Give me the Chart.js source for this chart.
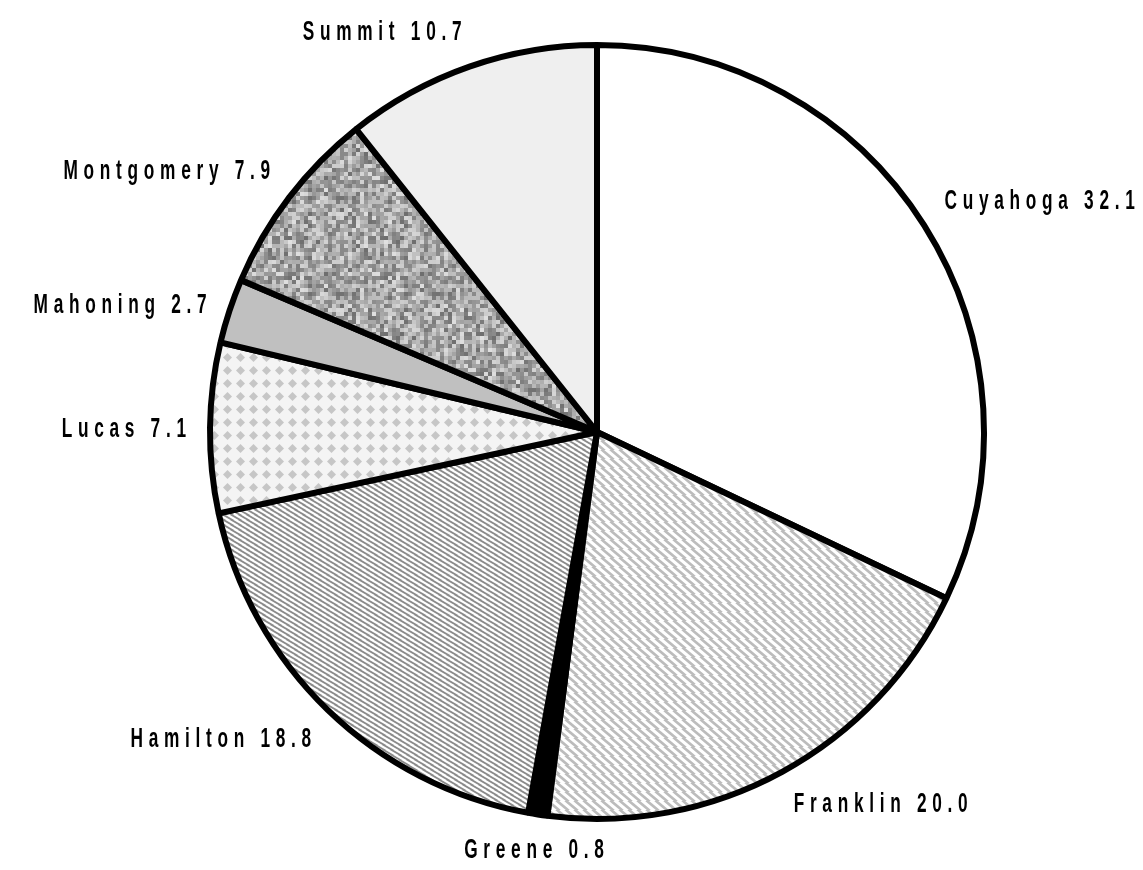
<!DOCTYPE html>
<html>
<head>
<meta charset="utf-8">
<script src="https://cdn.jsdelivr.net/npm/chart.js@4.4.0/dist/chart.umd.min.js"></script>
<style>
  html, body { margin: 0; padding: 0; background: #fff; }
  #wrap { width: 1143px; height: 870px; }
</style>
</head>
<body>
<div id="wrap"><canvas id="pieChart" width="1143" height="870"></canvas></div>
<script>
// 数据
var counties = ['Cuyahoga', 'Franklin', 'Greene', 'Hamilton', 'Lucas', 'Mahoning', 'Montgomery', 'Summit'];
var shares = [32.1, 20.0, 0.8, 18.8, 7.1, 2.7, 7.9, 10.7];

// 图案填充
function makeTile(w, h, draw) {
    var c = document.createElement('canvas');
    c.width = w; c.height = h;
    var g = c.getContext('2d');
    g.fillStyle = '#fff';
    g.fillRect(0, 0, w, h);
    draw(g, w, h);
    return c;
}

function stripeTile(w, h, color, lw) {
    return makeTile(w, h, function(g) {
        g.strokeStyle = color;
        g.lineWidth = lw;
        for (var k = -1; k <= 1; k++) {
            g.beginPath();
            g.moveTo(k * w - 2, -1);
            g.lineTo(k * w + w + 2, h + 1);
            g.stroke();
        }
    });
}

function diamondTile() {
    return makeTile(13, 13, function(g) {
        g.fillStyle = '#f4f4f4';
        g.fillRect(0, 0, 13, 13);
        g.fillStyle = '#c6c6c6';
        g.beginPath();
        g.moveTo(6.5, 2); g.lineTo(11, 6.5); g.lineTo(6.5, 11); g.lineTo(2, 6.5);
        g.closePath();
        g.fill();
    });
}

function noiseTile() {
    return makeTile(96, 96, function(g) {
        var s = 12345;
        for (var y = 0; y < 96; y += 4) {
            for (var x = 0; x < 96; x += 4) {
                s = (s * 1103515245 + 12345) & 0x7fffffff;
                var v = 110 + (s >> 8) % 115;
                g.fillStyle = 'rgb(' + v + ',' + v + ',' + v + ')';
                g.fillRect(x, y, 4, 4);
            }
        }
    });
}

var ctx = document.getElementById('pieChart').getContext('2d');
var fills = [
    '#ffffff',
    ctx.createPattern(stripeTile(9, 9, '#bcbcbc', 2.6), 'repeat'),
    '#000000',
    ctx.createPattern(stripeTile(8, 5, '#8a8a8a', 1.8), 'repeat'),
    ctx.createPattern(diamondTile(), 'repeat'),
    '#c0c0c0',
    ctx.createPattern(noiseTile(), 'repeat'),
    '#efefef'
];

// 外部标签
var outsideLabels = {
    id: 'outsideLabels',
    afterDatasetsDraw: function(chart) {
        var g = chart.ctx;
        var arcs = chart.getDatasetMeta(0).data;
        var fontSize = 27, sx = 0.64, gap = 5.7;
        g.save();
        g.font = 'bold ' + fontSize + 'px "Liberation Sans", Arial, sans-serif';
        g.fillStyle = '#000';
        g.textBaseline = 'alphabetic';
        arcs.forEach(function(arc, i) {
            var text = counties[i] + ' ' + shares[i].toFixed(1);
            var mid = (arc.startAngle + arc.endAngle) / 2;
            var ux = Math.cos(mid), uy = Math.sin(mid);
            var R = arc.outerRadius + 24;
            var ax = arc.x + ux * R, ay = arc.y + uy * R;
            var widths = [], total = 0;
            for (var k = 0; k < text.length; k++) {
                var w = g.measureText(text[k]).width * sx;
                widths.push(w);
                total += w + (k < text.length - 1 ? gap : 0);
            }
            var capH = fontSize * 0.72;
            var left;
            if (ux > 0.2) left = ax;
            else if (ux < -0.2) left = ax - total;
            else left = ax - total / 2;
            var base;
            if (uy < -0.4) base = ay - 4;
            else if (uy > 0.4) base = ay + capH;
            else base = ay + capH / 2;
            var x = left;
            for (var k = 0; k < text.length; k++) {
                g.save();
                g.translate(x, base);
                g.scale(sx, 1);
                g.fillText(text[k], 0, 0);
                g.restore();
                x += widths[k] + gap;
            }
        });
        g.restore();
    }
};

var myChart = new Chart(ctx, {
    type: 'pie',
    data: {
        labels: counties,
        datasets: [{
            data: shares,
            backgroundColor: fills,
            borderColor: '#000',
            borderWidth: 6,
            hoverOffset: 0
        }]
    },
    options: {
        responsive: false,
        animation: false,
        events: [],
        layout: { padding: { top: 42, bottom: 48, left: 150, right: 99 } },
        plugins: {
            legend: { display: false },
            tooltip: { enabled: false }
        }
    },
    plugins: [outsideLabels]
});
</script>
</body>
</html>
